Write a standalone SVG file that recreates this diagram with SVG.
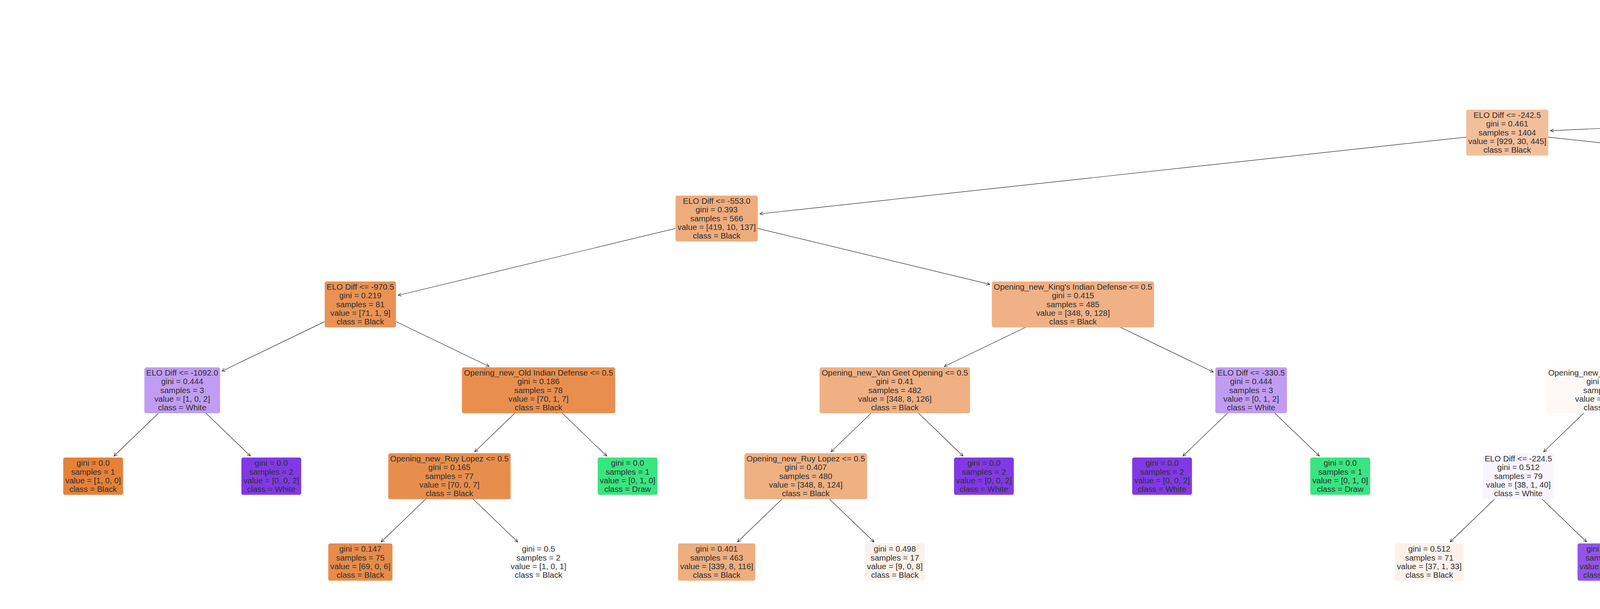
<svg xmlns="http://www.w3.org/2000/svg" width="7471" height="1560" viewBox="0 0 7471 1560">
<style>
.n text{font-family:"Liberation Sans",Arial,Helvetica,sans-serif;font-size:20.75px;fill:#2e2e2e;text-anchor:middle}
.n text.s{text-anchor:start}
.e line{stroke:#222;stroke-width:1.2;fill:none;marker-end:url(#ah)}
</style>
<defs>
<marker id="ah" markerUnits="userSpaceOnUse" viewBox="-10 -6 12 12" refX="0" refY="0" markerWidth="12" markerHeight="12" orient="auto" overflow="visible">
<path d="M-8.3,-4.2 L0,0 L-8.3,4.2" fill="none" stroke="#222" stroke-width="1.2"/>
</marker>
</defs>
<rect width="7471" height="1560" fill="#ffffff"/>
<g id="connectors" class="e">
<line x1="8731" y1="119.8" x2="3969.1" y2="334.8"/>
<line x1="3858.54" y1="339.8" x2="1945.39" y2="547.77"/>
<line x1="3858.54" y1="339.8" x2="5649.32" y2="534.47"/>
<line x1="1834.68" y1="559.8" x2="1019.12" y2="756.5"/>
<line x1="1834.68" y1="559.8" x2="2533.83" y2="728.43"/>
<line x1="5882.39" y1="559.8" x2="4795.79" y2="759.48"/>
<line x1="5882.39" y1="559.8" x2="6982.89" y2="762.03"/>
<line x1="922.52" y1="779.8" x2="568.24" y2="950.69"/>
<line x1="922.52" y1="779.8" x2="1252.17" y2="938.81"/>
<line x1="2746.84" y1="779.8" x2="2417.19" y2="938.81"/>
<line x1="2746.84" y1="779.8" x2="3106.32" y2="953.2"/>
<line x1="4685.18" y1="779.8" x2="4272.06" y2="939.22"/>
<line x1="4685.18" y1="779.8" x2="5144.95" y2="957.22"/>
<line x1="7079.6" y1="779.8" x2="6916.26" y2="937.38"/>
<line x1="7079.6" y1="779.8" x2="7254.24" y2="948.28"/>
<line x1="466.44" y1="999.8" x2="291.8" y2="1168.28"/>
<line x1="466.44" y1="999.8" x2="641.08" y2="1168.28"/>
<line x1="1378.6" y1="999.8" x2="1215.26" y2="1157.38"/>
<line x1="1378.6" y1="999.8" x2="1553.24" y2="1168.28"/>
<line x1="2290.76" y1="999.8" x2="2127.42" y2="1157.38"/>
<line x1="2290.76" y1="999.8" x2="2465.4" y2="1168.28"/>
<line x1="3202.92" y1="999.8" x2="3028.28" y2="1168.28"/>
<line x1="3202.92" y1="999.8" x2="3377.56" y2="1168.28"/>
<line x1="4115.08" y1="999.8" x2="3951.74" y2="1157.38"/>
<line x1="4115.08" y1="999.8" x2="4289.72" y2="1168.28"/>
<line x1="5255.28" y1="999.8" x2="4925.63" y2="1158.81"/>
<line x1="5255.28" y1="999.8" x2="5601.21" y2="1166.66"/>
<line x1="6851.56" y1="999.8" x2="6688.22" y2="1157.38"/>
<line x1="6851.56" y1="999.8" x2="7026.2" y2="1168.28"/>
<line x1="1150.56" y1="1219.8" x2="975.92" y2="1388.28"/>
<line x1="1150.56" y1="1219.8" x2="1325.2" y2="1388.28"/>
<line x1="2062.72" y1="1219.8" x2="1888.08" y2="1388.28"/>
<line x1="2062.72" y1="1219.8" x2="2237.36" y2="1388.28"/>
<line x1="3887.04" y1="1219.8" x2="3712.4" y2="1388.28"/>
<line x1="3887.04" y1="1219.8" x2="4061.68" y2="1388.28"/>
<line x1="4799.2" y1="1219.8" x2="4624.56" y2="1388.28"/>
<line x1="4799.2" y1="1219.8" x2="4973.84" y2="1388.28"/>
<line x1="5711.36" y1="1219.8" x2="5536.72" y2="1388.28"/>
<line x1="5711.36" y1="1219.8" x2="5886" y2="1388.28"/>
<line x1="6623.52" y1="1219.8" x2="6448.88" y2="1388.28"/>
<line x1="6623.52" y1="1219.8" x2="6798.16" y2="1388.28"/>
<line x1="7535.68" y1="1219.8" x2="7361.04" y2="1388.28"/>
</g>
<g id="nodes" class="n">
<g id="node-elo-242" transform="translate(3858.54,339.8)"><rect x="-105.1" y="-58.7" width="210.2" height="117.5" rx="5" fill="#f2bf9b"/><text><tspan x="0" y="-37.5">ELO Diff &lt;= -242.5</tspan><tspan x="0" y="-15.4">gini = 0.461</tspan><tspan x="0" y="6.7">samples = 1404</tspan><tspan x="0" y="28.8">value = [929, 30, 445]</tspan><tspan x="0" y="50.9">class = Black</tspan></text></g>
<g id="node-elo-553" transform="translate(1834.68,559.8)"><rect x="-105.25" y="-58.7" width="210.5" height="117.5" rx="5" fill="#eeac7d"/><text><tspan x="0" y="-37.5">ELO Diff &lt;= -553.0</tspan><tspan x="0" y="-15.4">gini = 0.393</tspan><tspan x="0" y="6.7">samples = 566</tspan><tspan x="0" y="28.8">value = [419, 10, 137]</tspan><tspan x="0" y="50.9">class = Black</tspan></text></g>
<g id="node-qga" transform="translate(5882.39,559.8)"><rect x="-227.6" y="-58.7" width="455.2" height="117.5" rx="5" fill="#f5cfb4"/><text><tspan x="0" y="-37.5">Opening_new_Queen's Gambit Accepted &lt;= 0.5</tspan><tspan x="0" y="-15.4">gini = 0.494</tspan><tspan x="0" y="6.7">samples = 838</tspan><tspan x="0" y="28.8">value = [510, 20, 308]</tspan><tspan x="0" y="50.9">class = Black</tspan></text></g>
<g id="node-elo-970" transform="translate(922.52,779.8)"><rect x="-91.25" y="-58.7" width="182.5" height="117.5" rx="5" fill="#e99254"/><text><tspan x="0" y="-37.5">ELO Diff &lt;= -970.5</tspan><tspan x="0" y="-15.4">gini = 0.219</tspan><tspan x="0" y="6.7">samples = 81</tspan><tspan x="0" y="28.8">value = [71, 1, 9]</tspan><tspan x="0" y="50.9">class = Black</tspan></text></g>
<g id="node-kid" transform="translate(2746.84,779.8)"><rect x="-207.65" y="-58.7" width="415.3" height="117.5" rx="5" fill="#efb185"/><text><tspan x="0" y="-37.5">Opening_new_King's Indian Defense &lt;= 0.5</tspan><tspan x="0" y="-15.4">gini = 0.415</tspan><tspan x="0" y="6.7">samples = 485</tspan><tspan x="0" y="28.8">value = [348, 9, 128]</tspan><tspan x="0" y="50.9">class = Black</tspan></text></g>
<g id="node-elo-221" transform="translate(4685.18,779.8)"><rect x="-105.2" y="-58.7" width="210.4" height="117.5" rx="5" fill="#f5cdb1"/><text><tspan x="0" y="-37.5">ELO Diff &lt;= -221.5</tspan><tspan x="0" y="-15.4">gini = 0.492</tspan><tspan x="0" y="6.7">samples = 825</tspan><tspan x="0" y="28.8">value = [506, 20, 299]</tspan><tspan x="0" y="50.9">class = Black</tspan></text></g>
<g id="node-elo-135" transform="translate(7079.6,779.8)"><rect x="-91.3" y="-58.7" width="182.6" height="117.5" rx="5" fill="#b991f1"/><text><tspan x="0" y="-37.5">ELO Diff &lt;= -135.0</tspan><tspan x="0" y="-15.4">gini = 0.426</tspan><tspan x="0" y="6.7">samples = 13</tspan><tspan x="0" y="28.8">value = [4, 0, 9]</tspan><tspan x="0" y="50.9">class = White</tspan></text></g>
<g id="node-elo-1092" transform="translate(466.44,999.8)"><rect x="-96.85" y="-58.7" width="193.7" height="117.5" rx="5" fill="#c09cf2"/><text><tspan x="0" y="-37.5">ELO Diff &lt;= -1092.0</tspan><tspan x="0" y="-15.4">gini = 0.444</tspan><tspan x="0" y="6.7">samples = 3</tspan><tspan x="0" y="28.8">value = [1, 0, 2]</tspan><tspan x="0" y="50.9">class = White</tspan></text></g>
<g id="node-oid" transform="translate(1378.6,999.8)"><rect x="-196.15" y="-58.7" width="392.3" height="117.5" rx="5" fill="#e88f4f"/><text><tspan x="0" y="-37.5">Opening_new_Old Indian Defense &lt;= 0.5</tspan><tspan x="0" y="-15.4">gini = 0.186</tspan><tspan x="0" y="6.7">samples = 78</tspan><tspan x="0" y="28.8">value = [70, 1, 7]</tspan><tspan x="0" y="50.9">class = Black</tspan></text></g>
<g id="node-vangeet" transform="translate(2290.76,999.8)"><rect x="-192.55" y="-58.7" width="385.1" height="117.5" rx="5" fill="#efb083"/><text><tspan x="0" y="-37.5">Opening_new_Van Geet Opening &lt;= 0.5</tspan><tspan x="0" y="-15.4">gini = 0.41</tspan><tspan x="0" y="6.7">samples = 482</tspan><tspan x="0" y="28.8">value = [348, 8, 126]</tspan><tspan x="0" y="50.9">class = Black</tspan></text></g>
<g id="node-elo-330" transform="translate(3202.92,999.8)"><rect x="-91.65" y="-58.7" width="183.3" height="117.5" rx="5" fill="#c09cf2"/><text><tspan x="0" y="-37.5">ELO Diff &lt;= -330.5</tspan><tspan x="0" y="-15.4">gini = 0.444</tspan><tspan x="0" y="6.7">samples = 3</tspan><tspan x="0" y="28.8">value = [0, 1, 2]</tspan><tspan x="0" y="50.9">class = White</tspan></text></g>
<g id="node-ruy-83" transform="translate(4115.08,999.8)"><rect x="-157.05" y="-58.7" width="314.1" height="117.5" rx="5" fill="#fef9f6"/><text><tspan x="0" y="-37.5">Opening_new_Ruy Lopez &lt;= 0.5</tspan><tspan x="0" y="-15.4">gini = 0.512</tspan><tspan x="0" y="6.7">samples = 83</tspan><tspan x="0" y="28.8">value = [42, 1, 40]</tspan><tspan x="0" y="50.9">class = Black</tspan></text></g>
<g id="node-elo-175" transform="translate(5255.28,999.8)"><rect x="-105.2" y="-58.7" width="210.4" height="117.5" rx="5" fill="#f4caab"/><text><tspan x="0" y="-37.5">ELO Diff &lt;= -175.5</tspan><tspan x="0" y="-15.4">gini = 0.486</tspan><tspan x="0" y="6.7">samples = 742</tspan><tspan x="0" y="28.8">value = [464, 19, 259]</tspan><tspan x="0" y="50.9">class = Black</tspan></text></g>
<g id="node-elo-138" transform="translate(6851.56,999.8)"><rect x="-91.3" y="-58.7" width="182.6" height="117.5" rx="5" fill="#d5bdf6"/><text><tspan x="0" y="-37.5">ELO Diff &lt;= -138.5</tspan><tspan x="0" y="-15.4">gini = 0.48</tspan><tspan x="0" y="6.7">samples = 10</tspan><tspan x="0" y="28.8">value = [4, 0, 6]</tspan><tspan x="0" y="50.9">class = White</tspan></text></g>
<g id="leaf-003" transform="translate(7307.64,999.8)"><rect x="-76.55" y="-47.7" width="153.1" height="95.5" rx="5" fill="#8139e5"/><text><tspan x="0" y="-26.4">gini = 0.0</tspan><tspan x="0" y="-4.3">samples = 3</tspan><tspan x="0" y="17.8">value = [0, 0, 3]</tspan><tspan x="0" y="39.9">class = White</tspan></text></g>
<g id="leaf-c1" transform="translate(238.4,1219.8)"><rect x="-76.55" y="-47.7" width="153.1" height="95.5" rx="5" fill="#e58139"/><text><tspan x="0" y="-26.4">gini = 0.0</tspan><tspan x="0" y="-4.3">samples = 1</tspan><tspan x="0" y="17.8">value = [1, 0, 0]</tspan><tspan x="0" y="39.9">class = Black</tspan></text></g>
<g id="leaf-c2" transform="translate(694.48,1219.8)"><rect x="-76.55" y="-47.7" width="153.1" height="95.5" rx="5" fill="#8139e5"/><text><tspan x="0" y="-26.4">gini = 0.0</tspan><tspan x="0" y="-4.3">samples = 2</tspan><tspan x="0" y="17.8">value = [0, 0, 2]</tspan><tspan x="0" y="39.9">class = White</tspan></text></g>
<g id="node-ruy-77" transform="translate(1150.56,1219.8)"><rect x="-156.65" y="-58.7" width="313.3" height="117.5" rx="5" fill="#e88e4d"/><text><tspan x="0" y="-37.5">Opening_new_Ruy Lopez &lt;= 0.5</tspan><tspan x="0" y="-15.4">gini = 0.165</tspan><tspan x="0" y="6.7">samples = 77</tspan><tspan x="0" y="28.8">value = [70, 0, 7]</tspan><tspan x="0" y="50.9">class = Black</tspan></text></g>
<g id="leaf-g" transform="translate(1606.64,1219.8)"><rect x="-76.55" y="-47.7" width="153.1" height="95.5" rx="5" fill="#39e581"/><text><tspan x="0" y="-26.4">gini = 0.0</tspan><tspan x="0" y="-4.3">samples = 1</tspan><tspan x="0" y="17.8">value = [0, 1, 0]</tspan><tspan x="0" y="39.9">class = Draw</tspan></text></g>
<g id="node-ruy-480" transform="translate(2062.72,1219.8)"><rect x="-157.05" y="-58.7" width="314.1" height="117.5" rx="5" fill="#efb082"/><text><tspan x="0" y="-37.5">Opening_new_Ruy Lopez &lt;= 0.5</tspan><tspan x="0" y="-15.4">gini = 0.407</tspan><tspan x="0" y="6.7">samples = 480</tspan><tspan x="0" y="28.8">value = [348, 8, 124]</tspan><tspan x="0" y="50.9">class = Black</tspan></text></g>
<g id="leaf-k" transform="translate(2518.8,1219.8)"><rect x="-76.55" y="-47.7" width="153.1" height="95.5" rx="5" fill="#8139e5"/><text><tspan x="0" y="-26.4">gini = 0.0</tspan><tspan x="0" y="-4.3">samples = 2</tspan><tspan x="0" y="17.8">value = [0, 0, 2]</tspan><tspan x="0" y="39.9">class = White</tspan></text></g>
<g id="leaf-n1" transform="translate(2974.88,1219.8)"><rect x="-76.55" y="-47.7" width="153.1" height="95.5" rx="5" fill="#8139e5"/><text><tspan x="0" y="-26.4">gini = 0.0</tspan><tspan x="0" y="-4.3">samples = 2</tspan><tspan x="0" y="17.8">value = [0, 0, 2]</tspan><tspan x="0" y="39.9">class = White</tspan></text></g>
<g id="leaf-n2" transform="translate(3430.96,1219.8)"><rect x="-76.55" y="-47.7" width="153.1" height="95.5" rx="5" fill="#39e581"/><text><tspan x="0" y="-26.4">gini = 0.0</tspan><tspan x="0" y="-4.3">samples = 1</tspan><tspan x="0" y="17.8">value = [0, 1, 0]</tspan><tspan x="0" y="39.9">class = Draw</tspan></text></g>
<g id="node-elo-224" transform="translate(3887.04,1219.8)"><rect x="-91.3" y="-58.7" width="182.6" height="117.5" rx="5" fill="#f9f5fe"/><text><tspan x="0" y="-37.5">ELO Diff &lt;= -224.5</tspan><tspan x="0" y="-15.4">gini = 0.512</tspan><tspan x="0" y="6.7">samples = 79</tspan><tspan x="0" y="28.8">value = [38, 1, 40]</tspan><tspan x="0" y="50.9">class = White</tspan></text></g>
<g id="leaf-r" transform="translate(4343.12,1219.8)"><rect x="-76.55" y="-47.7" width="153.1" height="95.5" rx="5" fill="#e58139"/><text><tspan x="0" y="-26.4">gini = 0.0</tspan><tspan x="0" y="-4.3">samples = 4</tspan><tspan x="0" y="17.8">value = [4, 0, 0]</tspan><tspan x="0" y="39.9">class = Black</tspan></text></g>
<g id="node-horwitz" transform="translate(4799.2,1219.8)"><rect x="-183.35" y="-58.7" width="366.7" height="117.5" rx="5" fill="#f1ba93"/><text><tspan x="0" y="-37.5">Opening_new_Horwitz Defense &lt;= 0.5</tspan><tspan x="0" y="-15.4">gini = 0.448</tspan><tspan x="0" y="6.7">samples = 263</tspan><tspan x="0" y="28.8">value = [179, 6, 78]</tspan><tspan x="0" y="50.9">class = Black</tspan></text></g>
<g id="node-elo-174" transform="translate(5711.36,1219.8)"><rect x="-105.2" y="-58.7" width="210.4" height="117.5" rx="5" fill="#f6d3ba"/><text><tspan x="0" y="-37.5">ELO Diff &lt;= -174.5</tspan><tspan x="0" y="-15.4">gini = 0.502</tspan><tspan x="0" y="6.7">samples = 479</tspan><tspan x="0" y="28.8">value = [285, 13, 181]</tspan><tspan x="0" y="50.9">class = Black</tspan></text></g>
<g id="node-elo-192" transform="translate(6623.52,1219.8)"><rect x="-91.3" y="-58.7" width="182.6" height="117.5" rx="5" fill="#c09cf2"/><text><tspan x="0" y="-37.5">ELO Diff &lt;= -192.0</tspan><tspan x="0" y="-15.4">gini = 0.444</tspan><tspan x="0" y="6.7">samples = 9</tspan><tspan x="0" y="28.8">value = [3, 0, 6]</tspan><tspan x="0" y="50.9">class = White</tspan></text></g>
<g id="leaf-ac" transform="translate(7079.6,1219.8)"><rect x="-76.55" y="-47.7" width="153.1" height="95.5" rx="5" fill="#e58139"/><text><tspan x="0" y="-26.4">gini = 0.0</tspan><tspan x="0" y="-4.3">samples = 1</tspan><tspan x="0" y="17.8">value = [1, 0, 0]</tspan><tspan x="0" y="39.9">class = Black</tspan></text></g>
<g id="node-opening-q" transform="translate(7535.68,1219.8)"><rect x="-225.4" y="-58.7" width="450.8" height="117.5" rx="5" fill="#fcf3ed"/><text class="s" x="-220.4" y="-37.5">Opening_new_Q</text><text class="s" x="-73.7" y="6.7">s</text><text class="s" x="-117.4" y="28.8">value</text></g>
<g id="leaf-f1" transform="translate(922.52,1439.8)"><rect x="-82.15" y="-47.7" width="164.3" height="95.5" rx="5" fill="#e78c4a"/><text><tspan x="0" y="-26.4">gini = 0.147</tspan><tspan x="0" y="-4.3">samples = 75</tspan><tspan x="0" y="17.8">value = [69, 0, 6]</tspan><tspan x="0" y="39.9">class = Black</tspan></text></g>
<g id="leaf-f2" transform="translate(1378.6,1439.8)"><rect x="-76.55" y="-47.7" width="153.1" height="95.5" rx="5" fill="#ffffff"/><text><tspan x="0" y="-26.4">gini = 0.5</tspan><tspan x="0" y="-4.3">samples = 2</tspan><tspan x="0" y="17.8">value = [1, 0, 1]</tspan><tspan x="0" y="39.9">class = Black</tspan></text></g>
<g id="leaf-j1" transform="translate(1834.68,1439.8)"><rect x="-98.85" y="-47.7" width="197.7" height="95.5" rx="5" fill="#eeae80"/><text><tspan x="0" y="-26.4">gini = 0.401</tspan><tspan x="0" y="-4.3">samples = 463</tspan><tspan x="0" y="17.8">value = [339, 8, 116]</tspan><tspan x="0" y="39.9">class = Black</tspan></text></g>
<g id="leaf-j2" transform="translate(2290.76,1439.8)"><rect x="-76.55" y="-47.7" width="153.1" height="95.5" rx="5" fill="#fcf1e9"/><text><tspan x="0" y="-26.4">gini = 0.498</tspan><tspan x="0" y="-4.3">samples = 17</tspan><tspan x="0" y="17.8">value = [9, 0, 8]</tspan><tspan x="0" y="39.9">class = Black</tspan></text></g>
<g id="leaf-o1" transform="translate(3659,1439.8)"><rect x="-88.1" y="-47.7" width="176.2" height="95.5" rx="5" fill="#fcf2ea"/><text><tspan x="0" y="-26.4">gini = 0.512</tspan><tspan x="0" y="-4.3">samples = 71</tspan><tspan x="0" y="17.8">value = [37, 1, 33]</tspan><tspan x="0" y="39.9">class = Black</tspan></text></g>
<g id="leaf-s" transform="translate(4115.08,1439.8)"><rect x="-76.55" y="-47.7" width="153.1" height="95.5" rx="5" fill="#9355e9"/><text><tspan x="0" y="-26.4">gini = 0.219</tspan><tspan x="0" y="-4.3">samples = 8</tspan><tspan x="0" y="17.8">value = [1, 0, 7]</tspan><tspan x="0" y="39.9">class = White</tspan></text></g>
<g id="leaf-u1" transform="translate(4571.16,1439.8)"><rect x="-93.7" y="-47.7" width="187.4" height="95.5" rx="5" fill="#f1b991"/><text><tspan x="0" y="-26.4">gini = 0.444</tspan><tspan x="0" y="-4.3">samples = 261</tspan><tspan x="0" y="17.8">value = [179, 6, 76]</tspan><tspan x="0" y="39.9">class = Black</tspan></text></g>
<g id="leaf-u2" transform="translate(5027.24,1439.8)"><rect x="-76.55" y="-47.7" width="153.1" height="95.5" rx="5" fill="#8139e5"/><text><tspan x="0" y="-26.4">gini = 0.0</tspan><tspan x="0" y="-4.3">samples = 2</tspan><tspan x="0" y="17.8">value = [0, 0, 2]</tspan><tspan x="0" y="39.9">class = White</tspan></text></g>
<g id="leaf-x1" transform="translate(5483.32,1439.8)"><rect x="-76.55" y="-47.7" width="153.1" height="95.5" rx="5" fill="#b78ef0"/><text><tspan x="0" y="-26.4">gini = 0.42</tspan><tspan x="0" y="-4.3">samples = 10</tspan><tspan x="0" y="17.8">value = [3, 0, 7]</tspan><tspan x="0" y="39.9">class = White</tspan></text></g>
<g id="leaf-x2" transform="translate(5939.4,1439.8)"><rect x="-105.2" y="-47.7" width="210.4" height="95.5" rx="5" fill="#f5d1b7"/><text><tspan x="0" y="-26.4">gini = 0.5</tspan><tspan x="0" y="-4.3">samples = 469</tspan><tspan x="0" y="17.8">value = [282, 13, 174]</tspan><tspan x="0" y="39.9">class = Black</tspan></text></g>
<g id="leaf-ae1" transform="translate(6395.48,1439.8)"><rect x="-76.55" y="-47.7" width="153.1" height="95.5" rx="5" fill="#ffffff"/><text><tspan x="0" y="-26.4">gini = 0.5</tspan><tspan x="0" y="-4.3">samples = 4</tspan><tspan x="0" y="17.8">value = [2, 0, 2]</tspan><tspan x="0" y="39.9">class = Black</tspan></text></g>
<g id="leaf-ae2" transform="translate(6851.56,1439.8)"><rect x="-76.55" y="-47.7" width="153.1" height="95.5" rx="5" fill="#a06aec"/><text><tspan x="0" y="-26.4">gini = 0.32</tspan><tspan x="0" y="-4.3">samples = 5</tspan><tspan x="0" y="17.8">value = [1, 0, 4]</tspan><tspan x="0" y="39.9">class = White</tspan></text></g>
<g id="leaf-af" transform="translate(7307.64,1439.8)"><rect x="-122.8" y="-47.7" width="245.6" height="95.5" rx="5" fill="#fcf2eb"/><text><tspan x="0" y="-26.4">gini = 0.523</tspan><tspan x="0" y="-4.3">samples = 3941</tspan><tspan x="0" y="17.8">value = [2027, 100, 1814]</tspan><tspan x="0" y="39.9">class = Black</tspan></text></g>
</g>
</svg>
